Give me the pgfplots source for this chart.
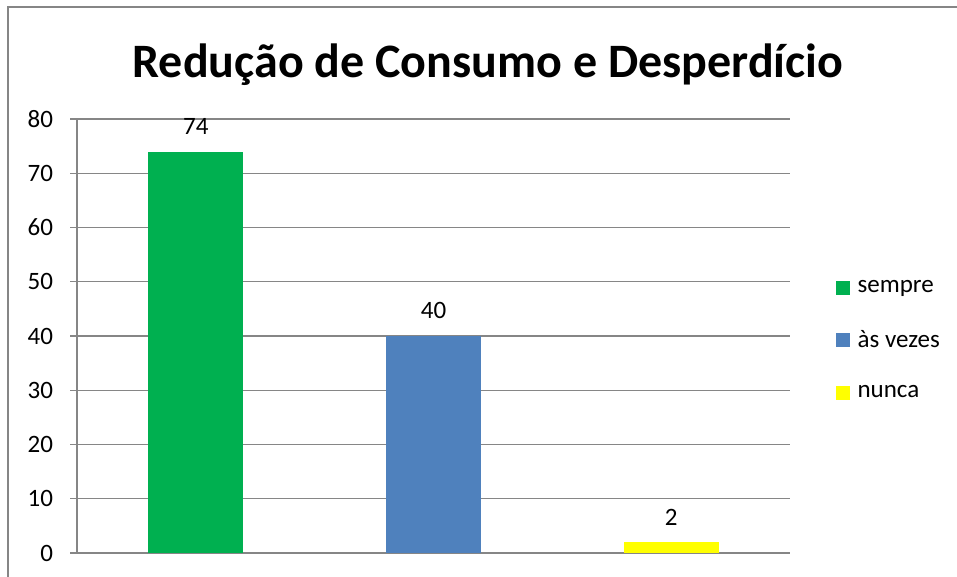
\documentclass[border=0pt]{standalone}
\usepackage{fontspec}
\setmainfont{Carlito}
\usepackage{pgfplots}
\pgfplotsset{compat=1.18}

\definecolor{cgreen}{HTML}{00B050}
\definecolor{cblue}{HTML}{4F81BD}
\definecolor{cyellow}{HTML}{FFFF00}
\definecolor{cgrid}{HTML}{868686}

\begin{document}
\begin{tikzpicture}
% page = 957 x 577 px, 1 px = 0.5pt
\useasboundingbox (0,0) rectangle (478.5pt,288.5pt);
\draw[cgrid, line width=1pt] (4pt,-20pt) rectangle (500pt,285pt);
\node[anchor=base, font=\fontsize{24}{29}\selectfont\bfseries] at (244pt,249.5pt)
  {Redução de Consumo e Desperdício};

\begin{axis}[
    at={(38.5pt,12pt)}, anchor=south west,
    scale only axis,
    width=356.5pt, height=217pt,
    ymin=0, ymax=80, ytick={0,10,...,80},
    xmin=-0.5, xmax=2.5, xtick=\empty,
    axis x line*=bottom, axis y line*=left,
    axis line style={cgrid, line width=0.7pt, -},
    ymajorgrids=true,
    grid style={cgrid, line width=0.7pt},
    tick align=outside,
    major tick length=3.5pt,
    tick style={cgrid, line width=0.7pt},
    ticklabel style={font=\fontsize{12.5}{15}\selectfont},
    yticklabel style={xshift=-5pt},
    /pgf/number format/assume math mode=true,
    ybar, bar width=47.5pt,
    bar shift=0pt,
    nodes near coords,
    every node near coord/.append style={font=\fontsize{12.5}{15}\selectfont, yshift=5pt},
    legend style={draw=none, at={(1.055,0.49)}, anchor=west,
      font=\fontsize{12.5}{15}\selectfont, row sep=13.5pt,
      /tikz/every odd column/.append style={column sep=2pt}},
    legend cell align=left,
    legend image code/.code={\fill[#1] (-3.5pt,-3.5pt) rectangle (3.5pt,3.5pt);},
]
\addplot[fill=cgreen, draw=none] coordinates {(0,74)};
\addplot[fill=cblue, draw=none] coordinates {(1,40)};
\addplot[fill=cyellow, draw=none] coordinates {(2,2)};
\legend{sempre, às vezes, nunca}
\end{axis}
\end{tikzpicture}
\end{document}
